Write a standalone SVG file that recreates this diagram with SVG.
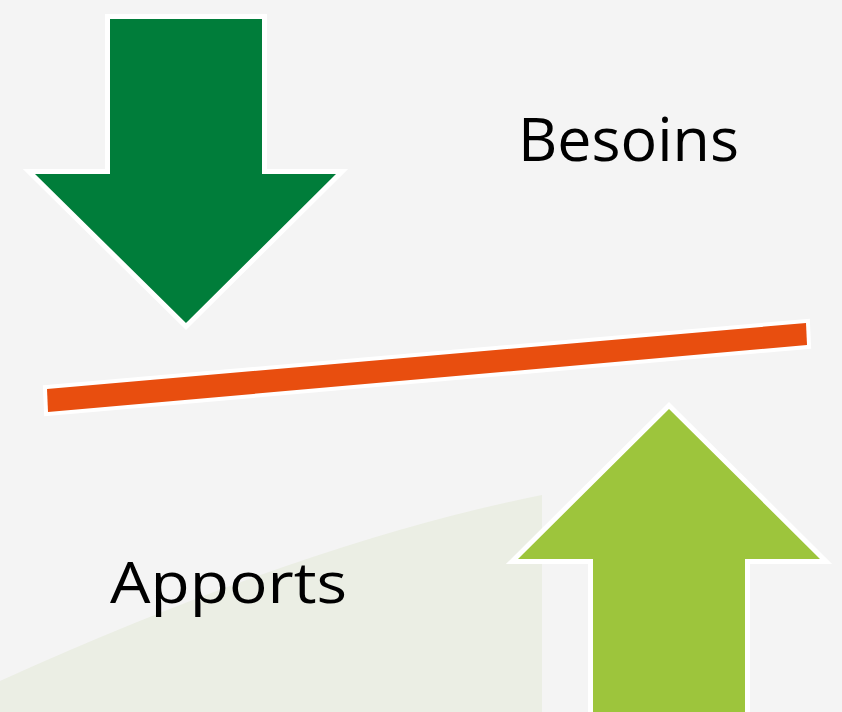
<svg xmlns="http://www.w3.org/2000/svg" width="842" height="712" viewBox="0 0 842 712">
  <style>
    .lbl { font-family: "Open Sans", "Liberation Sans", sans-serif; fill: #000000; }
    .outl { stroke: #ffffff; stroke-width: 10; stroke-linejoin: miter; stroke-miterlimit: 10; paint-order: stroke; }
  </style>
  <rect x="0" y="0" width="842" height="712" fill="#f4f4f4"/>
  <path id="bg-shape" d="M0,712 L0,681 Q310,541 542,495 L542,712 Z" fill="#ebeee4"/>
  <g id="connectors">
    <polygon id="balance-line" class="outl" points="47,389 806,323 807,345 48,412" fill="#e84e0f" style="stroke-width:8"/>
  </g>
  <g id="besoins-arrow">
    <polygon class="outl" points="110,19 262,19 262,174 336,174 186,323 35,174 110,174" fill="#007d3a"/>
  </g>
  <g id="apports-arrow">
    <polygon class="outl" points="669,409 820,559 745,559 745,720 593,720 593,559 518,559" fill="#9dc53c"/>
  </g>
  <g id="besoins-label">
    <text class="lbl" x="518" y="161" font-size="61" textLength="221" lengthAdjust="spacingAndGlyphs">Besoins</text>
  </g>
  <g id="apports-label">
    <text class="lbl" x="110" y="603" font-size="57" textLength="237" lengthAdjust="spacingAndGlyphs">Apports</text>
  </g>
</svg>
